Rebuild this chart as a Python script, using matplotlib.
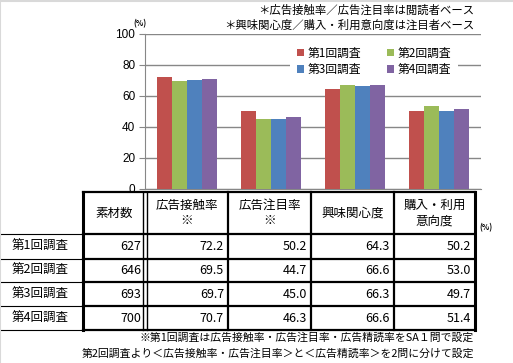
import matplotlib
matplotlib.use("Agg")
import matplotlib.pyplot as plt
from matplotlib.lines import Line2D
import numpy as np

plt.rcParams['font.family'] = ['Noto Sans CJK JP', 'DejaVu Sans']

# ---- data ----
categories = ["広告接触率\n※", "広告注目率\n※", "興味関心度", "購入・利用\n意向度"]
surveys = ["第1回調査", "第2回調査", "第3回調査", "第4回調査"]
material_counts = [627, 646, 693, 700]
values = [
    [72.2, 50.2, 64.3, 50.2],
    [69.5, 44.7, 66.6, 53.0],
    [69.7, 45.0, 66.3, 49.7],
    [70.7, 46.3, 66.6, 51.4],
]
colors = ["#C0504D", "#9BBB59", "#4F81BD", "#8064A2"]
yticks = [0, 20, 40, 60, 80, 100]

W, H = 513, 363
fig = plt.figure(figsize=(W / 100, H / 100), dpi=100)

def fx(x):
    return x / W

def fy(y):
    return 1 - y / H

# ---- chart axes ----
ax_l, ax_r, ax_t, ax_b = 145, 481, 33.5, 188.5
ax = fig.add_axes([fx(ax_l), fy(ax_b), fx(ax_r - ax_l), (ax_b - ax_t) / H])
n = len(categories)
x = np.arange(n)
bw = 0.18
bars = []
for i, (s, vals) in enumerate(zip(surveys, values)):
    b = ax.bar(x + (i - 1.5) * bw, vals, width=bw, color=colors[i], label=s, zorder=3)
    bars.append(b)
ax.set_xlim(-0.5, n - 0.5)
ax.set_ylim(0, 100)
ax.set_yticks(yticks)
ax.set_yticklabels([str(t) for t in yticks], fontsize=8.5, family='Liberation Sans')
ax.set_xticks([])
ax.grid(axis='y', color='#878787', linewidth=1, zorder=0)
for sp in ['top', 'right']:
    ax.spines[sp].set_visible(False)
for sp in ['left', 'bottom']:
    ax.spines[sp].set_color('#878787')
ax.tick_params(axis='y', length=4, color='#878787', pad=3)
ax.set_axisbelow(True)

# row-wise legend order (1,2 / 3,4) with ncol=2 filling column-wise
order = [0, 2, 1, 3]
leg = ax.legend([bars[k] for k in order], [surveys[k] for k in order],
                ncol=2, loc='upper right', bbox_to_anchor=(0.95, 1.0),
                fontsize=8.5, frameon=True, facecolor='white', edgecolor='none',
                framealpha=1, fancybox=False, handlelength=0.6, handleheight=0.6,
                handletextpad=0.3, columnspacing=2.2, labelspacing=0.3,
                borderpad=0.6)

fig.text(fx(140), fy(24), "(%)", fontsize=5.5, ha='center', va='center', weight='bold')

# top notes
fig.text(fx(474), fy(10), "＊広告接触率／広告注目率は閲読者ベース", fontsize=8.2, ha='right', va='center')
fig.text(fx(474), fy(25), "＊興味関心度／購入・利用意向度は注目者ベース", fontsize=8.2, ha='right', va='center')

# ---- table ----
col_x = [83, 145, 228, 311, 394, 475]
row_y = [192, 234, 259, 282, 306, 330]
lw = 1.6

def hline(y, x0, x1, w=lw):
    fig.add_artist(Line2D([fx(x0), fx(x1)], [fy(y), fy(y)], color='black', linewidth=w,
                          transform=fig.transFigure, solid_capstyle='projecting'))

def vline(x0, y0, y1, w=lw):
    fig.add_artist(Line2D([fx(x0), fx(x0)], [fy(y0), fy(y1)], color='black', linewidth=w,
                          transform=fig.transFigure, solid_capstyle='projecting'))

# row label lines
for y in row_y[1:]:
    hline(y, 0, col_x[0], w=0.8)
for y in row_y:
    hline(y, col_x[0], col_x[-1])
for i, cx in enumerate(col_x):
    if i == 1:
        vline(cx - 1.6, row_y[0], row_y[-1], w=1.0)
        vline(cx + 1.6, row_y[0], row_y[-1], w=1.0)
    else:
        vline(cx, row_y[0], row_y[-1], w=2.2 if i in (0, len(col_x) - 1) else lw)

fs = 9
hdr_cy = (row_y[0] + row_y[1]) / 2
fig.text(fx((col_x[0] + col_x[1]) / 2), fy(hdr_cy), "素材数", fontsize=fs, ha='center', va='center')
for j, c in enumerate(categories):
    fig.text(fx((col_x[j + 1] + col_x[j + 2]) / 2), fy(hdr_cy), c, fontsize=fs,
             ha='center', va='center', linespacing=1.25)
fig.text(fx(486), fy(228), "(%)", fontsize=5.5, ha='center', va='center', weight='bold')

for i, s in enumerate(surveys):
    cy = (row_y[i + 1] + row_y[i + 2]) / 2
    fig.text(fx(12), fy(cy), s, fontsize=fs, ha='left', va='center')
    fig.text(fx(col_x[1] - 4), fy(cy), str(material_counts[i]), fontsize=fs, ha='right', va='center')
    for j in range(n):
        fig.text(fx(col_x[j + 2] - 4), fy(cy), f"{values[i][j]:.1f}", fontsize=fs,
                 ha='right', va='center')

# footnotes
fig.text(fx(474), fy(338), "※第1回調査は広告接触率・広告注目率・広告精読率をSA１問で設定",
         fontsize=7.8, ha='right', va='center')
fig.text(fx(474), fy(354), "第2回調査より＜広告接触率・広告注目率＞と＜広告精読率＞を2問に分けて設定",
         fontsize=7.8, ha='right', va='center')

# light border top/left
fig.add_artist(Line2D([0, 0, 1], [0, 1 - 0.5 / H, 1 - 0.5 / H], color='#D9D9D9', linewidth=1.5,
                      transform=fig.transFigure))

fig.savefig("out.png", dpi=100)
